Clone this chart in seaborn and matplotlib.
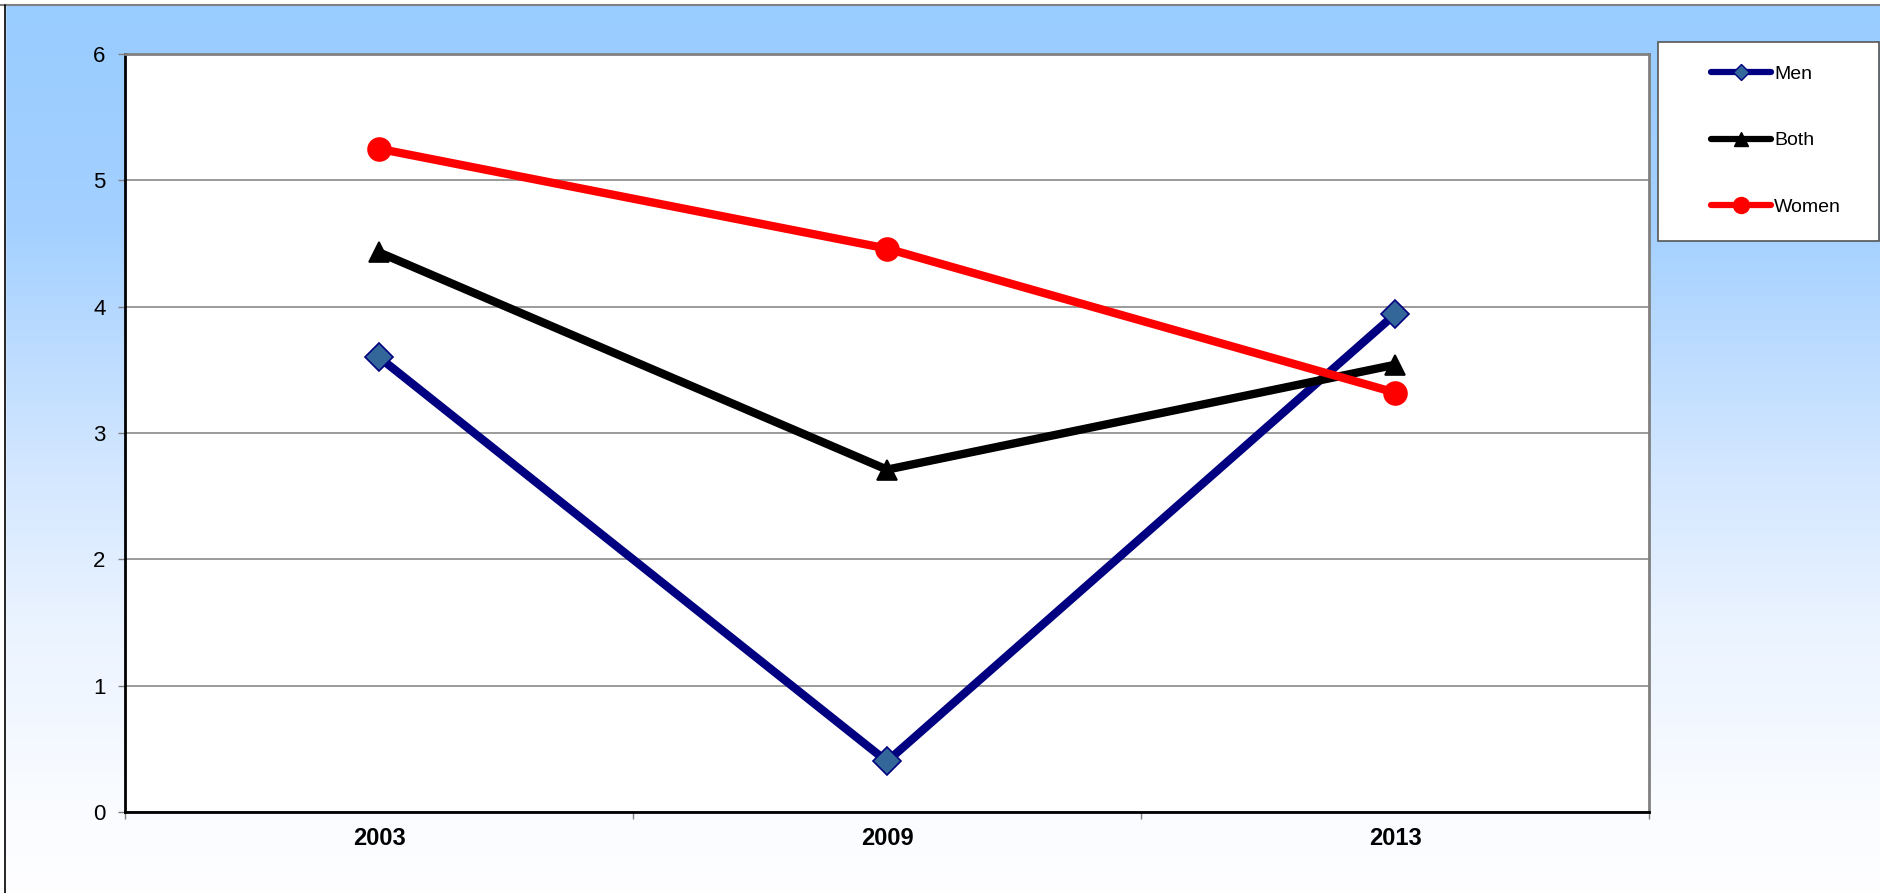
import numpy as np
import pandas as pd
import matplotlib
matplotlib.use("Agg")
import matplotlib.pyplot as plt
from matplotlib.colors import LinearSegmentedColormap
from matplotlib.lines import Line2D
from matplotlib.patches import Rectangle
import seaborn as sns

# Survey values by year
years = ["2003", "2009", "2013"]
men = [3.6, 0.4, 3.94]
both = [4.43, 2.71, 3.54]
women = [5.25, 4.46, 3.32]

series_names = ["Men", "Both", "Women"]
series_values = [men, both, women]

df = pd.DataFrame({
    "Year": years * 3,
    "Value": men + both + women,
    "Group": sum([[n] * len(years) for n in series_names], []),
})

sns.set_theme(style="white")
plt.rcParams["font.family"] = ["Liberation Sans", "DejaVu Sans"]
plt.rcParams["text.color"] = "black"
plt.rcParams["xtick.labelcolor"] = "black"
plt.rcParams["ytick.labelcolor"] = "black"

W, H = 1881, 893
fig = plt.figure(figsize=(W / 100, H / 100), dpi=100)

# Sky-blue to white vertical gradient behind everything
bg = fig.add_axes([0, 0, 1, 1], zorder=-10)
grad_cmap = LinearSegmentedColormap.from_list(
    "sky",
    [(0.0, "#99CCFF"), (0.25, "#A3D0FF"), (0.5, "#CFE5FF"),
     (0.7, "#EAF3FF"), (0.88, "#F8FBFF"), (1.0, "#FEFEFF")],
)
bg.imshow(np.linspace(0, 1, 256).reshape(-1, 1), aspect="auto",
          cmap=grad_cmap, extent=[0, 1, 0, 1], origin="upper")
bg.set_xlim(0, 1)
bg.set_ylim(0, 1)
bg.axis("off")
# white strip and border lines at the top/left of the panel
bg.add_patch(Rectangle((0, 1 - 4 / H), 1, 4 / H, color="white", zorder=2))
bg.add_patch(Rectangle((0, 0), 5 / W, 1, color="white", zorder=2))
bg.plot([0, 1], [1 - 4.5 / H, 1 - 4.5 / H], color="#808080", lw=1.5, zorder=3)
bg.plot([5.5 / W, 5.5 / W], [0, 1 - 4.5 / H], color="black", lw=1.2, zorder=3)

left, right = 125 / W, 1649 / W
top, bottom = 1 - 54 / H, 1 - 812 / H
ax = fig.add_axes([left, bottom, right - left, top - bottom])
ax.set_facecolor("white")

palette = {"Men": "#000080", "Both": "#000000", "Women": "#FF0000"}
markers = {"Men": "D", "Both": "^", "Women": "o"}
msizes = {"Men": 14.5, "Both": 14, "Women": 16.5}
mfaces = {"Men": "#336699", "Both": "#000000", "Women": "#FF0000"}

for name in series_names:
    sub = df[df["Group"] == name]
    sns.lineplot(data=sub, x="Year", y="Value", ax=ax, color=palette[name],
                 lw=6, marker=markers[name], markersize=msizes[name],
                 markerfacecolor=mfaces[name], markeredgecolor=palette[name],
                 markeredgewidth=1.2, legend=False, zorder=3)

ax.set_xlim(-0.5, len(years) - 0.5)
ax.set_ylim(0, 6)
ax.set_xlabel("")
ax.set_ylabel("")

ax.set_yticks(range(0, 7))
ax.set_yticklabels([str(v) for v in range(0, 7)], fontsize=16)
ax.yaxis.grid(True, color="#808080", lw=1.1)
ax.xaxis.grid(False)
ax.set_axisbelow(True)

ax.set_xticks(range(len(years)))
ax.set_xticklabels(years, fontsize=17, fontweight="bold")
ax.set_xticks(np.arange(-0.5, len(years)), minor=True)
ax.tick_params(axis="x", which="major", length=0, pad=11, labelcolor="black")
ax.tick_params(axis="x", which="minor", length=5, width=1, color="#808080",
               direction="out", bottom=True)
ax.tick_params(axis="y", which="major", length=5, width=1, color="#808080",
               direction="out", left=True, pad=9, labelcolor="black")

for side in ["left", "bottom"]:
    ax.spines[side].set_color("black")
    ax.spines[side].set_linewidth(2)
for side in ["top", "right"]:
    ax.spines[side].set_color("#808080")
    ax.spines[side].set_linewidth(2)

# Legend panel
fig.patches.append(Rectangle((1658 / W, 1 - 241 / H), (1879 - 1658) / W,
                             (241 - 42) / H, transform=fig.transFigure,
                             facecolor="white", edgecolor="#555555", lw=1.2,
                             zorder=5))
handles = [
    Line2D([], [], color=palette[n], lw=4.5, marker=markers[n],
           markersize={"Men": 8, "Both": 10, "Women": 11.5}[n],
           markerfacecolor=mfaces[n], markeredgecolor=palette[n],
           solid_capstyle="round")
    for n in series_names
]
leg = fig.legend(handles, series_names, loc="upper left",
                 bbox_to_anchor=(1711 / W, 1 - 65.5 / H), frameon=False,
                 borderpad=0, borderaxespad=0, handlelength=3.1,
                 handletextpad=0.15, labelspacing=2.5,
                 prop={"family": ["Liberation Sans Narrow", "Liberation Sans"],
                       "size": 14})
for t in leg.get_texts():
    t.set_color("black")
leg.set_zorder(6)

fig.savefig("out.png", dpi=100)
